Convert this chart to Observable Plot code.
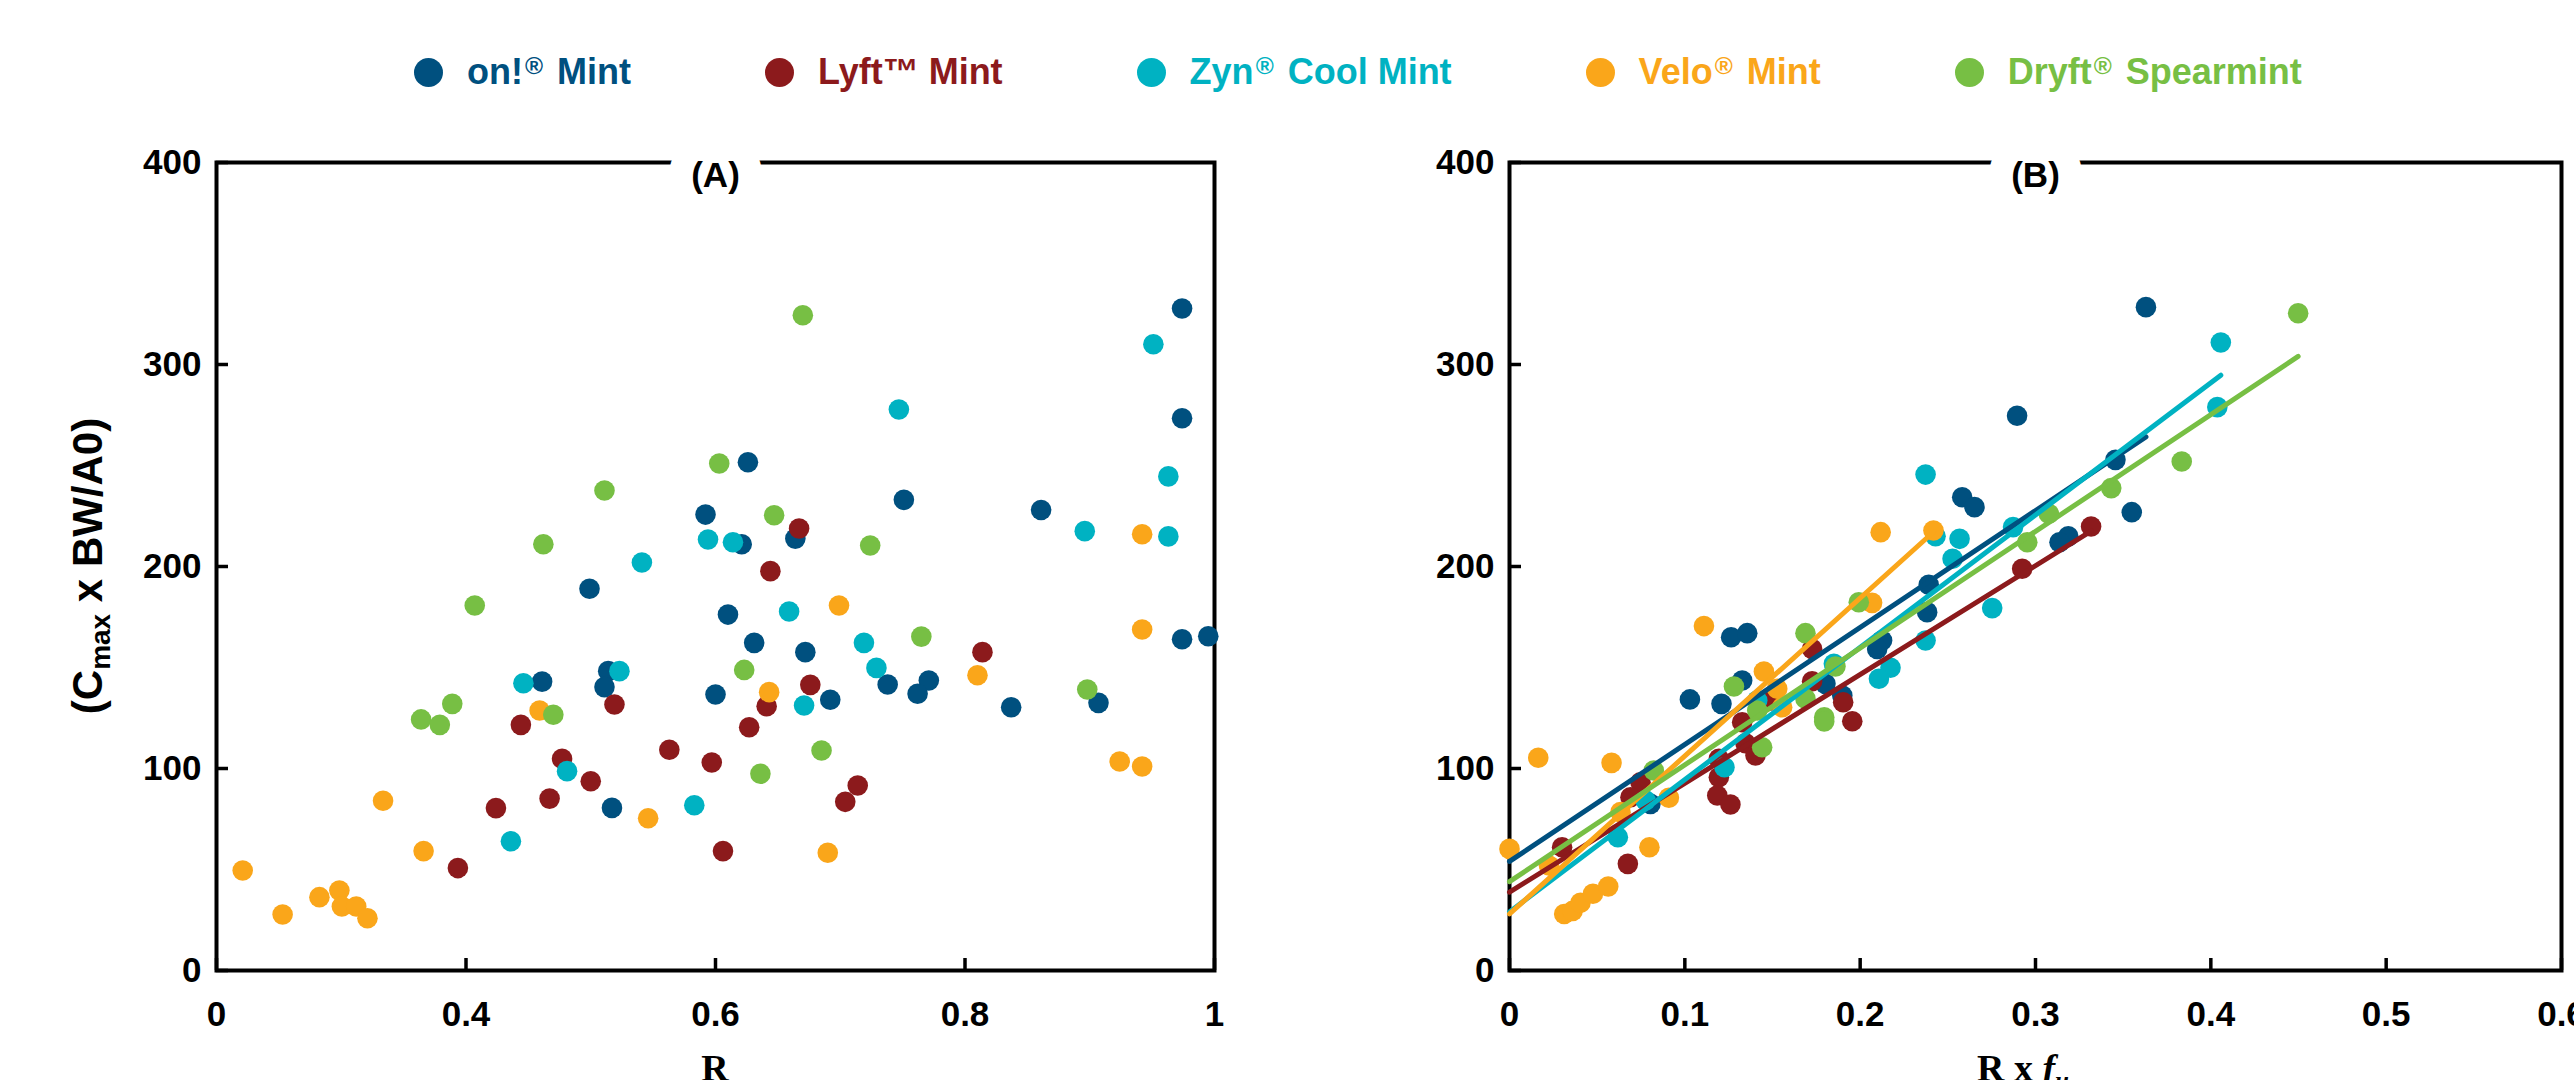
<!DOCTYPE html>
<html>
<head>
<meta charset="utf-8">
<script src="https://cdn.jsdelivr.net/npm/d3@7"></script>
<script src="https://cdn.jsdelivr.net/npm/@observablehq/plot@0.6"></script>
<style>
  html, body { margin: 0; padding: 0; background: #fff; }
  #wrap { position: relative; width: 2574px; height: 1080px; overflow: hidden; background: #fff;
          font-family: "Liberation Sans", Arial, sans-serif; }
  #legend { position: absolute; left: 414px; top: 50px; height: 44px; display: flex; align-items: center; gap: 134px; }
  .item { display: flex; align-items: center; font-weight: bold; font-size: 36px; white-space: nowrap; line-height: 1; }
  .sw { width: 29px; height: 29px; border-radius: 50%; margin-right: 24px; flex: none; }
  .sup { font-size: 0.68em; position: relative; top: -0.4em; margin-left: 2px; margin-right: 4px; }
  #panels { position: absolute; left: 0; top: 110px; display: flex; }
  #panels svg { flex: none; }
</style>
</head>
<body>
<div id="wrap">
  <div id="legend"></div>
  <div id="panels"></div>
</div>
<script>
// ---------- series ----------
const seriesNames  = ["on!® Mint", "Lyft™ Mint", "Zyn® Cool Mint", "Velo® Mint", "Dryft® Spearmint"];
const seriesColors = ["#00507F", "#8C1A1C", "#00B2C2", "#FAA61A", "#77BF44"];

// ---------- panel (A): [R, Cmax x BW/A0] ----------
const onMintA = [[0.499,189],[0.974,327.7],[0.974,273.4],[0.626,251.6],[0.751,233],[0.861,228],[0.592,225.7],
  [0.664,213.8],[0.621,211],[0.610,176.2],[0.974,164],[0.995,165.5],[0.631,162.2],[0.672,157.6],[0.514,148.2],
  [0.511,140.3],[0.600,136.6],[0.738,141.6],[0.771,143.6],[0.762,137],[0.692,134],[0.837,130.3],[0.907,132.5],
  [0.517,80.5],[0.461,143]];
const lyftMintA = [[0.667,218.8],[0.644,197.7],[0.814,157.6],[0.519,131.7],[0.676,141.4],[0.641,130.8],[0.627,120.4],
  [0.563,109.3],[0.597,103],[0.714,91.6],[0.704,83.5],[0.606,59.1],[0.444,121.6],[0.477,104.8],[0.500,93.7],
  [0.467,85.1],[0.424,80.4],[0.387,50.7]];
const zynCoolMintA = [[0.541,202],[0.951,310],[0.747,277.7],[0.963,244.6],[0.594,213.4],[0.614,212],[0.896,217.5],
  [0.963,214.9],[0.659,177.7],[0.719,162.2],[0.729,149.8],[0.523,148.2],[0.671,131.2],[0.583,81.8],[0.446,142.2],
  [0.481,98.7],[0.436,64]];
const veloMintA = [[0.942,216],[0.699,180.7],[0.942,168.8],[0.643,137.8],[0.810,146.2],[0.924,103.5],[0.942,101],
  [0.546,75.4],[0.690,58.3],[0.459,128.7],[0.267,84],[0.332,59.1],[0.042,49.5],[0.106,27.7],[0.165,36.3],
  [0.197,39.6],[0.201,31.7],[0.224,31.7],[0.242,25.9]];
const dryftSpearmintA = [[0.511,237.6],[0.462,211],[0.407,180.7],[0.670,324.4],[0.603,251],[0.647,225.4],[0.724,210.4],
  [0.765,165.3],[0.623,148.8],[0.898,139.1],[0.685,108.9],[0.636,97.4],[0.378,132],[0.328,124.3],[0.358,121.6],
  [0.470,126.6]];

// ---------- panel (B): [R x fu, Cmax x BW/A0] ----------
const onMintB = [[0.2582,234.3],[0.2652,229.4],[0.2391,191],[0.2382,177.4],[0.1264,165],[0.1356,167],[0.2125,163.4],
  [0.2097,159.2],[0.1802,141.9],[0.1898,136.1],[0.1327,143.6],[0.1029,134.2],[0.1209,132],[0.0804,82.5],
  [0.363,328.4],[0.2895,274.6],[0.3456,252.8],[0.3549,226.9],[0.3187,214.9],[0.3137,212]];
const lyftMintB = [[0.1726,159.2],[0.2924,198.9],[0.3317,219.8],[0.1726,143.2],[0.1903,132.8],[0.1955,123.4],
  [0.149,133.7],[0.1327,122.9],[0.1346,112.5],[0.1403,106.4],[0.1194,104.8],[0.1194,95.7],[0.1185,86.6],
  [0.126,82.2],[0.0747,93.2],[0.069,85.8],[0.0675,52.8],[0.03,61]];
const zynCoolMintB = [[0.2373,245.5],[0.2567,213.7],[0.243,215],[0.2527,203.8],[0.2373,163.4],[0.2173,149.9],
  [0.2107,144.4],[0.185,151.8],[0.1413,133.7],[0.1226,100.6],[0.0776,84.2],[0.0618,66],[0.4057,310.9],
  [0.4037,278.9],[0.2872,219.5],[0.2753,179.4]];
const veloMintB = [[0.2117,217],[0.2418,217.8],[0.2068,182],[0.1109,170.5],[0.1451,148],[0.1527,139.5],[0.1555,130.3],
  [0.0909,85.5],[0.0633,78.4],[0.0798,61],[0.0582,102.8],[0.0164,105.3],[0.0,60.2],[0.0225,52],[0.0312,28],
  [0.036,29.5],[0.0405,33.5],[0.0476,38],[0.0563,41.6]];
const dryftSpearmintB = [[0.1688,167],[0.1992,182.3],[0.1859,150.5],[0.1688,134.5],[0.1795,125.4],[0.1795,123.3],
  [0.128,140.6],[0.1413,128.7],[0.1441,110.5],[0.0823,99],[0.4498,325.4],[0.3834,252],[0.3432,238.8],
  [0.3076,226.1],[0.2953,212]];

// ---------- linear fits in panel (B) ----------
const fitIntercept = [54, 38.8, 29, 28, 44];
const fitSlope     = [579, 538.6, 655, 782, 578];

// ---------- ticks ----------
const xTicksA = [0, 0.4, 0.6, 0.8, 1];
const xTicksB = [0, 0.1, 0.2, 0.3, 0.4, 0.5, 0.6];
const yTicks  = [0, 100, 200, 300, 400];

// Panel (A) axis is segmented: 0–0.4 takes the same length as each 0.2 step after it.
const segA = d3.scaleLinear().domain([0, 0.4, 1]).range([0, 1, 4]);

// ---------- tables ----------
const panelA = [onMintA, lyftMintA, zynCoolMintA, veloMintA, dryftSpearmintA];
const panelB = [onMintB, lyftMintB, zynCoolMintB, veloMintB, dryftSpearmintB];
const toTable = (panel) => panel.flatMap((pts, i) => pts.map(([x, y]) => ({series: seriesNames[i], x, y})));
const tableA = toTable(panelA);
const tableB = toTable(panelB);
const fitLines = seriesNames.flatMap((s, i) => {
  const xmax = d3.max(panelB[i], d => d[0]);
  return [0, xmax].map(x => ({series: s, x, y: fitIntercept[i] + fitSlope[i] * x}));
});

// ---------- legend ----------
const legend = document.getElementById("legend");
seriesNames.forEach((s, i) => {
  const item = document.createElement("div");
  item.className = "item";
  item.style.color = seriesColors[i];
  const sw = document.createElement("span");
  sw.className = "sw";
  sw.style.background = seriesColors[i];
  item.appendChild(sw);
  const lab = document.createElement("span");
  lab.innerHTML = s.replace("®", '<span class="sup">®</span>');
  item.appendChild(lab);
  legend.appendChild(item);
});

// ---------- common ----------
const FONT = '"Liberation Sans", Arial, sans-serif';
const H = 970, MT = 52, MB = 110;
const color = {domain: seriesNames, range: seriesColors};
const style = {fontFamily: FONT, fontWeight: "bold", color: "black", background: "white"};

function axes(xTickPos, fmt) {
  return [
    Plot.axisX(xTickPos, {tickSize: 12, dy: -12, tickFormat: () => "", strokeWidth: 3.5}),
    Plot.axisX(xTickPos, {tickSize: 0, tickPadding: 31, fontSize: 35, fontWeight: "bold", tickFormat: fmt}),
    Plot.axisY(yTicks, {tickSize: 12, dx: 12, tickFormat: () => "", strokeWidth: 3.5}),
    Plot.axisY(yTicks, {tickSize: 0, tickPadding: 15, fontSize: 35, fontWeight: "bold", tickFormat: d => String(d)})
  ];
}
function title(t) {
  return Plot.text([t], {text: d => d, frameAnchor: "top", fontSize: 35, fontWeight: "bold", fill: "black",
                         stroke: "white", strokeWidth: 48, strokeLinejoin: "round"});
}

// ---------- panel A ----------
const WA = 1290, MLA = 216, MRA = 76;
const plotA = Plot.plot({
  width: WA, height: H, marginLeft: MLA, marginRight: MRA, marginTop: MT, marginBottom: MB,
  style,
  x: {domain: segA.range().length ? [segA(0), segA(1)] : [0, 4], label: null},
  y: {domain: [0, 400], label: null},
  color,
  marks: [
    Plot.frame({stroke: "black", strokeWidth: 4}),
    ...axes(xTicksA.map(segA), v => String(+segA.invert(v).toFixed(3))),
    Plot.dot(tableA, {x: d => segA(d.x), y: "y", fill: "series", r: 10.3}),
    title("(A)")
  ]
});

// ---------- panel B ----------
const WB = 1284, MLB = 219, MRB = 13;
const plotB = Plot.plot({
  width: WB, height: H, marginLeft: MLB, marginRight: MRB, marginTop: MT, marginBottom: MB,
  style,
  x: {domain: [0, 0.6], label: null},
  y: {domain: [0, 400], label: null},
  color,
  marks: [
    Plot.frame({stroke: "black", strokeWidth: 4}),
    ...axes(xTicksB, d => String(d)),
    Plot.dot(tableB, {x: "x", y: "y", fill: "series", r: 10.3}),
    Plot.line(fitLines, {x: "x", y: "y", z: "series", stroke: "series", strokeWidth: 5}),
    title("(B)")
  ]
});

const panels = document.getElementById("panels");
panels.appendChild(plotA);
panels.appendChild(plotB);

// ---------- axis titles ----------
function centerX(p) { const r = p.scale("x").range; return (r[0] + r[r.length - 1]) / 2; }
function centerY(p) { const r = p.scale("y").range; return (r[0] + r[1]) / 2; }
function bottomY(p) { return p.scale("y").range[0]; }

// y title on panel A
{
  const t = d3.select(plotA).append("text")
    .attr("transform", `translate(${MLA - 114},${centerY(plotA)}) rotate(-90)`)
    .attr("text-anchor", "middle")
    .attr("font-family", FONT).attr("font-weight", "bold").attr("font-size", 42).attr("fill", "black");
  t.append("tspan").text("(C");
  t.append("tspan").attr("font-size", 28).attr("dy", 8).text("max");
  t.append("tspan").attr("dy", -8).text(" x BW/A0)");
}
// x titles
const SERIF = '"Liberation Serif", "DejaVu Serif", serif';
d3.select(plotA).append("text")
  .attr("x", centerX(plotA)).attr("y", bottomY(plotA) + 111)
  .attr("text-anchor", "middle").attr("font-family", SERIF).attr("font-size", 38).attr("fill", "black")
  .text("R");
{
  const t = d3.select(plotB).append("text")
    .attr("x", centerX(plotB) - 12).attr("y", bottomY(plotB) + 111)
    .attr("text-anchor", "middle").attr("font-family", SERIF).attr("font-size", 38).attr("fill", "black");
  t.append("tspan").text("R x ");
  t.append("tspan").attr("font-style", "italic").text("f");
  t.append("tspan").attr("font-style", "italic").attr("font-size", 25).attr("dy", 8).text("u");
}
</script>
</body>
</html>
